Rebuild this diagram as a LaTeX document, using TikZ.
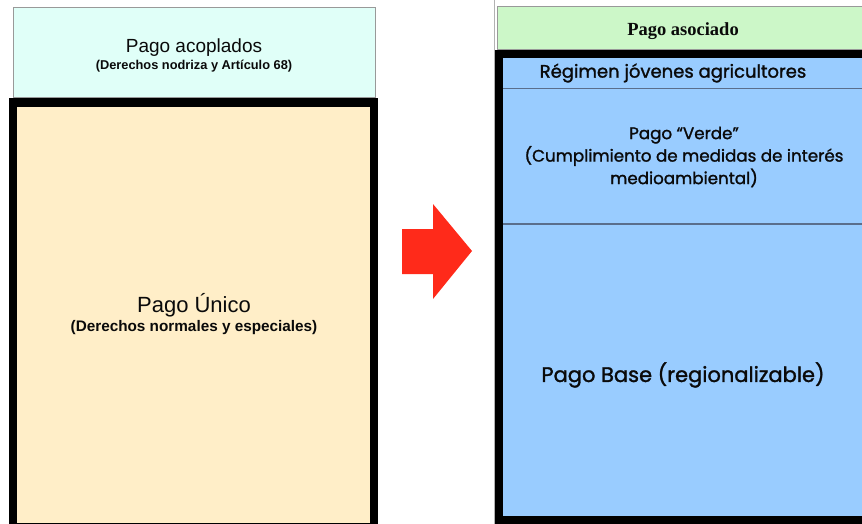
\documentclass[tikz,border=0pt]{standalone}
\usepackage{fontspec}
\setmainfont{Liberation Sans}
\newfontfamily\gothic{Poppins}[UprightFeatures={FakeBold=1.4}]
\newfontfamily\serifb{Liberation Serif}
\definecolor{cyanbox}{RGB}{224,255,248}
\definecolor{creambox}{RGB}{255,238,200}
\definecolor{greenbox}{RGB}{204,247,200}
\definecolor{bluebox}{RGB}{153,204,255}
\definecolor{arrowred}{RGB}{255,42,26}
\definecolor{sepline}{RGB}{90,110,140}
\definecolor{txt}{RGB}{10,10,10}
\tikzset{
  thinbox/.style={draw=gray!80, line width=1pt},
  heavyframe/.style={draw=black, line width=8.5pt},
  label/.style={inner sep=0pt, align=center, text=txt},
}
\begin{document}
\begin{tikzpicture}[x=1pt,y=-1pt]
\useasboundingbox (0,0) rectangle (862,524);
\clip (0,0) rectangle (862,524);
% left side
\fill[cyanbox] (13,7.5) rectangle (375,98);
\draw[thinbox] (13,7.5) rectangle (375,98);
\fill[creambox] (13,102.5) rectangle (374,527);
\draw[heavyframe] (13,102.5) rectangle (374,527);
\node[label, font=\fontsize{19}{21}\selectfont] (acop) at (194,48) {Pago acoplados};
\node[label, font=\fontsize{12.8}{14}\selectfont\bfseries] (acopsub) at (194,66) {(Derechos nodriza y Artículo 68)};
\node[label, font=\fontsize{22}{25}\selectfont] (unico) at (194,305) {Pago Único};
\node[label, font=\fontsize{15.3}{17}\selectfont\bfseries] (unicosub) at (194,328) {(Derechos normales y especiales)};
% arrow
\fill[arrowred] (402,229) -- (433,229) -- (433,204) -- (472,251) -- (433,299) -- (433,274) -- (402,274) -- cycle;
% right side
\draw[gray!60, line width=1pt] (494.5,0) -- (494.5,524);
\fill[greenbox] (497,7) rectangle (870,50);
\draw[thinbox] (497,7) rectangle (870,50);
\fill[bluebox] (499,54) rectangle (870,520);
\draw[sepline, line width=1.5pt] (503,88.5) -- (862,88.5);
\draw[sepline, line width=1.5pt] (503,224) -- (862,224);
\draw[heavyframe, line width=8pt] (499,54) rectangle (870,520);
\node[label, font=\fontsize{18.5}{20}\serifb\bfseries] (asoc) at (683,31) {Pago asociado};
\node[label, font=\fontsize{18}{20}\gothic] (jov) at (673,73) {Régimen jóvenes agricultores};
\node[label, font=\fontsize{16.7}{22.5}\gothic] (verde) at (684,157) {Pago “Verde”\\(Cumplimiento de medidas de interés\\medioambiental)};
\node[label, font=\fontsize{21}{24}\gothic] (base) at (683,375) {Pago Base (regionalizable)};
\end{tikzpicture}
\end{document}
